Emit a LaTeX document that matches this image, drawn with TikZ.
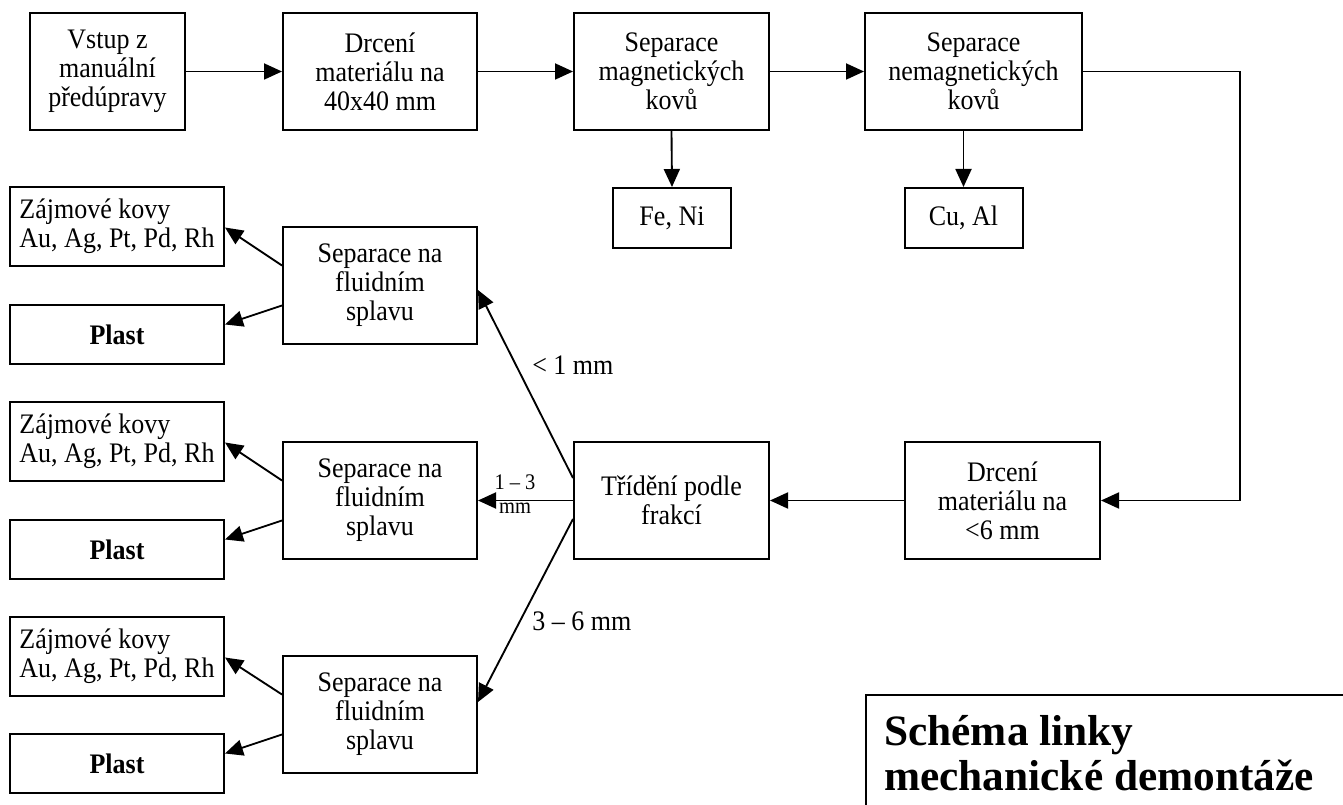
\documentclass[tikz,border=0pt]{standalone}
\usepackage{fontspec}
\setmainfont{Liberation Serif}[FakeStretch=0.92]
\newfontfamily\nadpisfont{Liberation Serif}
\usetikzlibrary{arrows.meta,calc}

\newcommand{\popis}{\fontsize{21.2}{21.75}\selectfont\lineskiplimit=-100pt}
\newcommand{\popismaly}{\fontsize{16.7}{16.5}\selectfont}
\newcommand{\nadpis}{\nadpisfont\fontsize{32.5}{33.75}\selectfont\bfseries\lineskiplimit=-100pt}

\begin{document}
\begin{tikzpicture}[x=0.75pt,y=0.75pt,yscale=-1,
  box/.style={draw, line width=1.5pt, align=center, inner sep=0pt, font=\popis},
  arr/.style={line width=1.4pt, -{Triangle[length=13.5pt,width=12pt]}},
  lab/.style={inner sep=0pt, font=\popis}]
\useasboundingbox (0,0) rectangle (1343,805);

% Top row
\node[box, minimum width=116.25pt, minimum height=87.75pt] (vstup) at (107.5,71.5) {Vstup z\\manuální\\předúpravy};
\node[box, minimum width=145.5pt, minimum height=87.75pt] (drceni) at (380,71.5) {Drcení\\materiálu na\\40x40 mm};
\node[box, minimum width=146.25pt, minimum height=87.75pt] (sepmag) at (671.5,71.5) {Separace\\magnetických\\kovů};
\node[box, minimum width=162.75pt, minimum height=87.75pt] (sepnemag) at (973.5,71.5) {Separace\\nemagnetických\\kovů};
% Metal outputs
\node[box, minimum width=88.5pt, minimum height=45pt] (feni) at (672,218) {Fe, Ni};
\node[box, minimum width=88.5pt, minimum height=45pt] (cual) at (963.5,218) {Cu, Al};

% Middle row
\node[box, minimum width=146.25pt, minimum height=87.75pt] (drcenijemne) at (1002.5,500.5) {Drcení\\materiálu na\\<6 mm};
\node[box, minimum width=146.25pt, minimum height=87.75pt] (trideni) at (671.5,500.5) {Třídění podle\\frakcí};

% Fluid separation, three fractions
\node[box, minimum width=145.5pt, minimum height=87.75pt] (sep1) at (380,285.5) {Separace na\\fluidním\\splavu};
\node[box, minimum width=145.5pt, minimum height=87.75pt] (sep2) at (380,500.5) {Separace na\\fluidním\\splavu};
\node[box, minimum width=145.5pt, minimum height=87.75pt] (sep3) at (380,714.5) {Separace na\\fluidním\\splavu};

% Products
\node[box, align=left, minimum width=160.5pt, minimum height=59.25pt] (kovy1) at (117,226.5) {Zájmové kovy\\Au, Ag, Pt, Pd, Rh};
\node[box, font=\popis\bfseries, minimum width=160.5pt, minimum height=44.25pt] (plast1) at (117,334.5) {Plast};
\node[box, align=left, minimum width=160.5pt, minimum height=59.25pt] (kovy2) at (117,441.5) {Zájmové kovy\\Au, Ag, Pt, Pd, Rh};
\node[box, font=\popis\bfseries, minimum width=160.5pt, minimum height=44.25pt] (plast2) at (117,549.5) {Plast};
\node[box, align=left, minimum width=160.5pt, minimum height=59.25pt] (kovy3) at (117,656.5) {Zájmové kovy\\Au, Ag, Pt, Pd, Rh};
\node[box, font=\popis\bfseries, minimum width=160.5pt, minimum height=44.25pt] (plast3) at (117,763.5) {Plast};

% Connectors
\coordinate (ohyb) at (1240,71.5);
\draw[arr] (vstup) -- (drceni);
\draw[arr] (drceni) -- (sepmag);
\draw[arr] (sepmag) -- (sepnemag);
\draw[arr] (sepmag.south) -- (feni.north);
\draw[arr] (cual.north |- sepnemag.south) -- (cual.north);
\draw[arr] (sepnemag.east) -- (ohyb) |- (drcenijemne.east);
\draw[arr] (drcenijemne) -- (trideni);
\draw[arr] ($(trideni.west)+(0,-22.5)$) -- ($(sep1.east)+(0,4.5)$);
\draw[arr] (trideni.west) -- (sep2.east);
\draw[arr] ($(trideni.west)+(0,18.5)$) -- ($(sep3.east)+(0,-12.5)$);

\draw[arr] ($(sep1.west)+(0,-20)$) -- ($(kovy1.east)+(0,1)$);
\draw[arr] ($(sep1.west)+(0,20)$) -- ($(plast1.east)+(0,-10)$);
\draw[arr] ($(sep2.west)+(0,-20)$) -- ($(kovy2.east)+(0,1)$);
\draw[arr] ($(sep2.west)+(0,20)$) -- ($(plast2.east)+(0,-10)$);
\draw[arr] ($(sep3.west)+(0,-20)$) -- ($(kovy3.east)+(0,1)$);
\draw[arr] ($(sep3.west)+(0,20)$) -- ($(plast3.east)+(0,-10)$);

% Fraction labels
\node[lab, anchor=base west] (frakce1) at (532,375) {< 1 mm};
\node[lab, anchor=base, font=\popismaly] (frakce2a) at (515,490) {1 – 3};
\node[lab, anchor=base, font=\popismaly] (frakce2b) at (515,513) {mm};
\node[lab, anchor=base west] (frakce3) at (532,630) {3 – 6 mm};

% Title
\draw[line width=1.5pt] (866,695) rectangle (1400,860);
\node[lab, font=\nadpis, anchor=base west, align=left] (titul) at (884,790) {Schéma linky\\mechanické demontáže};

\end{tikzpicture}
\end{document}
